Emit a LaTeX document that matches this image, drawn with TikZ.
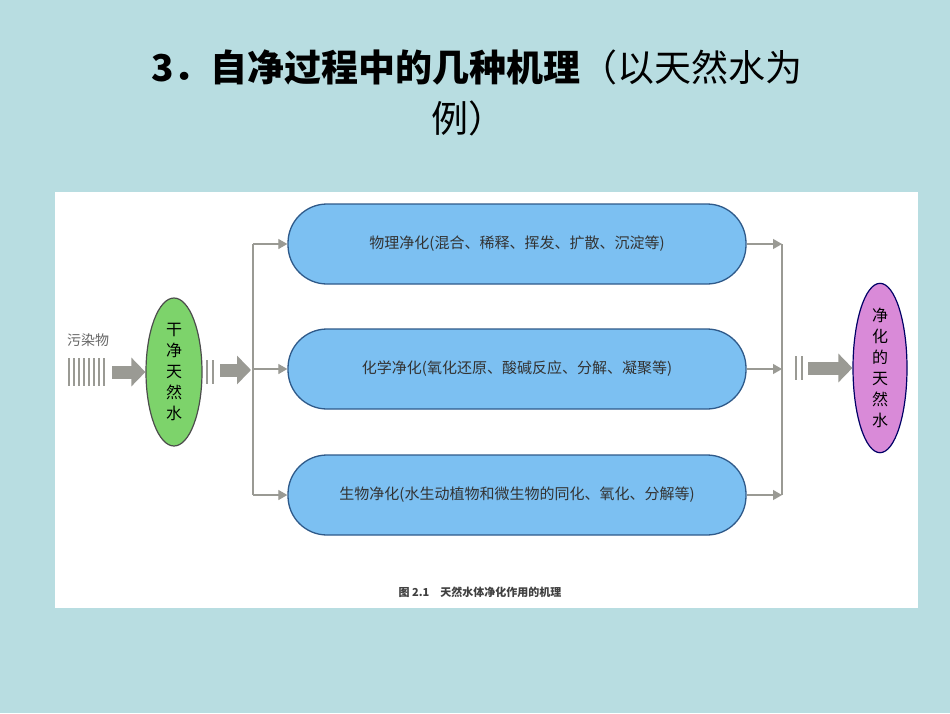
\documentclass[tikz,border=0pt]{standalone}
\usepackage{fontspec}
\setmainfont{Noto Sans CJK SC}
\usetikzlibrary{shapes.geometric,arrows.meta}
\definecolor{bgc}{HTML}{B8DDE1}
\definecolor{boxc}{HTML}{7CC0F2}
\definecolor{boxd}{HTML}{2F5A8A}
\definecolor{grn}{HTML}{7DD36B}
\definecolor{pnk}{HTML}{D98AD8}
\definecolor{arr}{HTML}{9A9A94}
\tikzset{
 pill/.style={draw=boxd,line width=1.3pt,fill=boxc,rounded corners=39pt,minimum width=458pt,minimum height=80pt,font=\fontsize{15}{17}\selectfont,text=black!80},
 oval/.style={ellipse,draw=black!70,line width=1.2pt,minimum width=56pt,minimum height=148pt,inner sep=0pt,align=center,font=\fontsize{16}{21}\selectfont},
 thin/.style={draw=arr,line width=1.2pt,-{Triangle[length=9pt,width=10pt]}},
 fat/.style={draw=arr,line width=13pt,-{Triangle[length=14pt,width=28pt]}},
 bar/.style={draw=arr,line width=1.5pt}
}
\begin{document}
\begin{tikzpicture}[x=1pt,y=-1pt]
\useasboundingbox (0,0) rectangle (950,713);
\fill[bgc] (0,0) rectangle (950,713);
\fill[white] (55,192) rectangle (918,608);
\node[font=\fontsize{37}{42}\selectfont\bfseries] (t1) at (477,68) {3．自净过程中的几种机理\mdseries（以天然水为};
\node[font=\fontsize{37}{42}\selectfont] (t2) at (468,118) {例）};
\node[font=\fontsize{14}{16}\selectfont,text=black!60] (pol) at (88,340) {污染物};
\foreach \x in {69,74,79,84,89,94,99,104} \draw[bar] (\x,358) -- (\x,386);
\coordinate (a1) at (112,372);
\node[oval,fill=grn] (gw) at (174,372) {干\\净\\天\\然\\水};
\draw[fat] (a1) -- (gw.west);
\foreach \x in {207,213} \draw[bar] (\x,360) -- (\x,384);
\coordinate (a2s) at (220,370);
\coordinate (a2e) at (251,370);
\draw[fat] (a2s) -- (a2e);
\node[pill] (b1) at (517,244) {物理净化(混合、稀释、挥发、扩散、沉淀等)};
\node[pill] (b2) at (517,369) {化学净化(氧化还原、酸碱反应、分解、凝聚等)};
\node[pill] (b3) at (517,495) {生物净化(水生动植物和微生物的同化、氧化、分解等)};
\coordinate (jt) at (253,244); \coordinate (j1) at (253,369); \coordinate (jb) at (253,495);
\draw[arr,line width=1.2pt] (jt) -- (jb);
\draw[thin] (jt) -- (b1.west);
\draw[thin] (j1) -- (b2.west);
\draw[thin] (jb) -- (b3.west);
\coordinate (rt) at (782,244); \coordinate (rm) at (782,369); \coordinate (rb) at (782,495);
\draw[arr,line width=1.2pt] (rt) -- (rb);
\draw[thin] (b1.east) -- (rt);
\draw[thin] (b2.east) -- (rm);
\draw[thin] (b3.east) -- (rb);
\foreach \x in {796,802} \draw[bar] (\x,356) -- (\x,380);
\node[oval,fill=pnk,draw=black!60!blue,minimum width=54pt,minimum height=150pt] (pw) at (880,368) {净\\化\\的\\天\\然\\水};
\coordinate (a3s) at (808,368);
\draw[fat] (a3s) -- (pw.west);
\node[font=\fontsize{11}{13}\selectfont\bfseries,text=black!75] (cap) at (480,592) {图 2.1\quad 天然水体净化作用的机理};
\end{tikzpicture}
\end{document}
